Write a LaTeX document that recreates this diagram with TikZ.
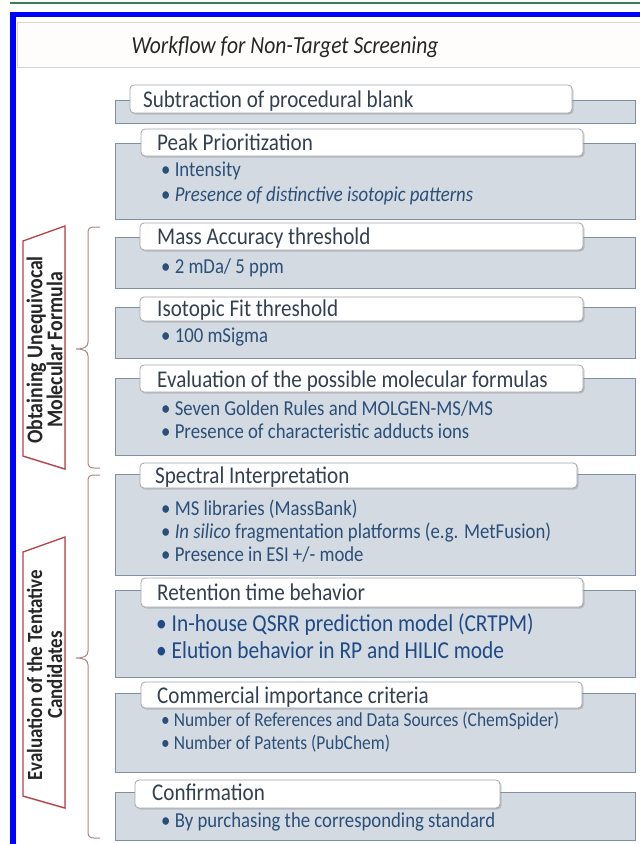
\documentclass[tikz,border=0pt]{standalone}
\usepackage{fontspec}
\setmainfont{Carlito}[FakeStretch=0.88]
\usetikzlibrary{shadows}
\definecolor{boxfill}{HTML}{D4DAE2}
\definecolor{boxline}{HTML}{7F90A3}
\definecolor{headline}{HTML}{A3A7AD}
\definecolor{headtext}{HTML}{34404F}
\definecolor{bultext}{HTML}{2B4F78}
\definecolor{rettext}{HTML}{1F4A85}
\definecolor{labred}{HTML}{B8404A}
\definecolor{bracecol}{HTML}{B08585}
\definecolor{greenline}{HTML}{3E7A55}
\definecolor{titleline}{HTML}{D6D6D6}
\definecolor{titlefill}{HTML}{FFFCFC}
\tikzset{
  graybox/.style={fill=boxfill, draw=boxline, line width=0.9pt,
    drop shadow={shadow xshift=0.8pt, shadow yshift=-0.8pt, opacity=0.25}},
  headbox/.style={fill=white, draw=headline, rounded corners=4pt, line width=0.8pt,
    drop shadow={shadow xshift=1.5pt, shadow yshift=-1.5pt, opacity=0.35}},
  headtxt/.style={anchor=base west, inner sep=0pt, text=headtext,
    font=\fontsize{24}{24}\selectfont},
  bultxt/.style={anchor=base west, inner sep=0pt, text=bultext,
    font=\fontsize{21.3}{21.3}\selectfont},
  bultxtsmall/.style={bultxt, font=\fontsize{19.8}{19.8}\selectfont},
  rettxt/.style={anchor=base west, inner sep=0pt, text=rettext,
    font=\fontsize{24.3}{24.3}\selectfont},
  sidelabel/.style={fill=white, draw=labred, line width=1.3pt,
    drop shadow={shadow xshift=1pt, shadow yshift=-1.5pt, opacity=0.3}},
  sidetxt/.style={rotate=90, align=center, inner sep=0pt, text=black!85,
    font=\bfseries\fontsize{22.5}{20}\selectfont},
  sidetxtb/.style={sidetxt, font=\bfseries\fontsize{21.6}{20}\selectfont},
  bracestyle/.style={draw=bracecol, line width=1pt}
}
\begin{document}
\begin{tikzpicture}[x=1pt,y=-1pt]
\useasboundingbox (0,0) rectangle (640,844);
\fill[white] (0,0) rectangle (640,844);
% top green rule and blue frame
\draw[greenline, line width=2pt] (10,2.5) -- (640,2.5);
\fill[blue] (10,12) rectangle (645,17);
\fill[blue] (10,12) rectangle (16,850);
% title
\draw[titleline, fill=titlefill, line width=0.8pt] (17,22.5) rectangle (645,67);
\node[anchor=base, inner sep=0pt, text=black!85, font=\itshape\fontsize{24.5}{24.5}\selectfont]
  (title) at (285,53.5) {Workflow for Non-Target Screening};

% 1 Subtraction
\draw[graybox] (115,100) rectangle (635,123);
\draw[headbox] (130,85) rectangle (572,113);
\node[headtxt] (h1) at (143,107) {Subtraction of procedural blank};

% 2 Peak prioritization
\draw[graybox] (115,143) rectangle (635,219);
\draw[headbox] (141,129) rectangle (583,156);
\node[headtxt] (h2) at (157,150) {Peak Prioritization};
\node[bultxt] (b2a) at (161,176) {• Intensity};
\node[bultxt] (b2b) at (161,201) {• \textit{Presence of distinctive isotopic patterns}};

% 3 Mass accuracy
\draw[graybox] (115,237) rectangle (635,288);
\draw[headbox] (140,223) rectangle (583,250);
\node[headtxt] (h3) at (157,244) {Mass Accuracy threshold};
\node[bultxt] (b3a) at (161,273) {• 2 mDa/ 5 ppm};

% 4 Isotopic fit
\draw[graybox] (115,307) rectangle (635,358);
\draw[headbox] (140,297) rectangle (583,321);
\node[headtxt] (h4) at (157,316) {Isotopic Fit threshold};
\node[bultxt] (b4a) at (161,342) {• 100 mSigma};

% 5 Evaluation of formulas
\draw[graybox] (115,378) rectangle (635,455);
\draw[headbox] (140,365) rectangle (583,392);
\node[headtxt] (h5) at (157,387) {Evaluation of the possible molecular formulas};
\node[bultxt] (b5a) at (161,415) {• Seven Golden Rules and MOLGEN-MS/MS};
\node[bultxt] (b5b) at (161,438) {• Presence of characteristic adducts ions};

% 6 Spectral interpretation
\draw[graybox] (115,474) rectangle (635,575);
\draw[headbox] (140,463) rectangle (577,488);
\node[headtxt] (h6) at (155,483) {Spectral Interpretation};
\node[bultxt] (b6a) at (161,515) {• MS libraries (MassBank)};
\node[bultxt] (b6b) at (161,538) {• \textit{In silico} fragmentation platforms (e.g. MetFusion)};
\node[bultxt] (b6c) at (161,561) {• Presence in ESI +/- mode};

% 7 Retention time
\draw[graybox] (115,590) rectangle (635,677);
\draw[headbox] (141,578) rectangle (583,607);
\node[headtxt] (h7) at (157,600) {Retention time behavior};
\node[rettxt] (b7a) at (156,631) {• In-house QSRR prediction model (CRTPM)};
\node[rettxt] (b7b) at (156,658) {• Elution behavior in RP and HILIC mode};

% 8 Commercial importance
\draw[graybox] (115,693) rectangle (635,772);
\draw[headbox] (141,682) rectangle (582,708);
\node[headtxt] (h8) at (157,703) {Commercial importance criteria};
\node[bultxtsmall] (b8a) at (161,726) {• Number of References and Data Sources (ChemSpider)};
\node[bultxtsmall] (b8b) at (161,749) {• Number of Patents (PubChem)};

% 9 Confirmation
\draw[graybox] (115,792) rectangle (635,840);
\draw[headbox] (135,780) rectangle (500,808);
\node[headtxt] (h9) at (152,800) {Confirmation};
\node[bultxt] (b9a) at (161,827) {• By purchasing the corresponding standard};

% side labels
\draw[sidelabel] (23,241) -- (65,226) -- (65,469) -- (23,456) -- cycle;
\node[sidetxt] (s1) at (44.5,350) {Obtaining Unequivocal\\Molecular Formula};
\draw[sidelabel] (23,552) -- (65,537) -- (65,808) -- (23,796) -- cycle;
\node[sidetxtb] (s2) at (44.5,675) {Evaluation of the Tentative\\Candidates};

% braces
\draw[bracestyle] (100,227) -- (94,227) .. controls (89,227) and (88,229) .. (88,234)
  -- (88,342) .. controls (88,347) and (84,349) .. (76,349)
  .. controls (84,349) and (88,351) .. (88,356)
  -- (88,461) .. controls (88,466) and (89,468) .. (94,468) -- (100,468);
\draw[bracestyle] (100,475) -- (94,475) .. controls (89,475) and (88,477) .. (88,482)
  -- (88,651) .. controls (88,656) and (84,658) .. (76,658)
  .. controls (84,658) and (88,660) .. (88,665)
  -- (88,831) .. controls (88,836) and (89,838) .. (94,838) -- (100,838);
\end{tikzpicture}
\end{document}
